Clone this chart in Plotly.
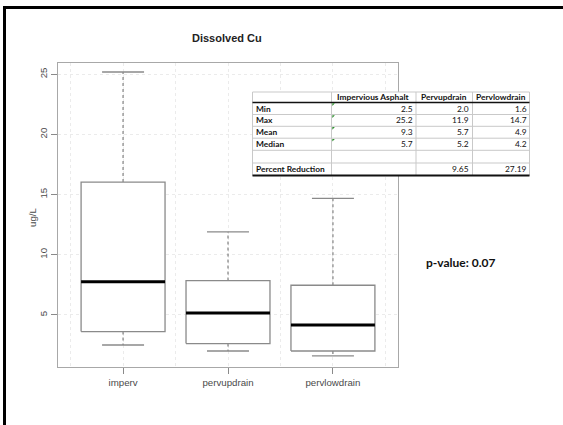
import plotly.graph_objects as go

# ---- data -------------------------------------------------------------
categories = ["imperv", "pervupdrain", "pervlowdrain"]
whisker_low = [2.5, 2.0, 1.6]
q1 = [3.62, 2.62, 2.0]
medians = [7.76, 5.17, 4.17]
q3 = [16.05, 7.86, 7.47]
whisker_high = [25.2, 11.9, 14.7]

y_ticks = [5, 10, 15, 20, 25]

table_header = ["", "Impervious Asphalt", "Pervupdrain", "Pervlowdrain"]
table_row_labels = ["Min", "Max", "Mean", "Median", "", "Percent Reduction"]
impervious_col = ["2.5", "25.2", "9.3", "5.7", "", ""]
pervupdrain_col = ["2.0", "11.9", "5.7", "5.2", "", "9.65"]
pervlowdrain_col = ["1.6", "14.7", "4.9", "4.2", "", "27.19"]
p_value_text = "p-value: 0.07"

# ---- figure geometry ----------------------------------------------------
W, H = 563, 425
ML, MR, MT, MB = 58, 165, 63, 58
PW, PH = W - ML - MR, H - MT - MB


def px(x):
    """pixel x -> paper x"""
    return (x - ML) / PW


def py(y):
    """pixel y -> paper y"""
    return (H - MB - y) / PH


GRAY = "#8a8a8a"
GRID = "#ebebeb"
positions = list(range(1, len(categories) + 1))
half_box = 0.4
half_cap = 0.2

fig = go.Figure()

for x, lo, a, m, b, hi in zip(positions, whisker_low, q1, medians, q3, whisker_high):
    # dashed whiskers
    fig.add_trace(go.Scatter(
        x=[x, x, None, x, x], y=[b, hi, None, a, lo], mode="lines",
        line=dict(color="#666666", width=1, dash="3px,3px"),
        hoverinfo="skip", showlegend=False))
    # whisker caps
    fig.add_trace(go.Scatter(
        x=[x - half_cap, x + half_cap, None, x - half_cap, x + half_cap],
        y=[hi, hi, None, lo, lo], mode="lines",
        line=dict(color=GRAY, width=1.3),
        hoverinfo="skip", showlegend=False))
    # box
    fig.add_trace(go.Scatter(
        x=[x - half_box, x + half_box, x + half_box, x - half_box, x - half_box],
        y=[a, a, b, b, a], mode="lines", fill="toself", fillcolor="white",
        line=dict(color=GRAY, width=1.3),
        hoverinfo="skip", showlegend=False))
    # median
    fig.add_trace(go.Scatter(
        x=[x - half_box, x + half_box], y=[m, m], mode="lines",
        line=dict(color="black", width=3),
        hoverinfo="skip", showlegend=False))

axis_font = dict(family="Liberation Sans, Arial, sans-serif", size=9.7, color="#4a4a4a")

fig.update_xaxes(
    range=[0.38, 3.62], tickvals=positions, ticktext=categories,
    ticks="outside", ticklen=6, tickcolor=GRAY, tickfont=axis_font,
    showline=True, mirror=True, linecolor="#a8a8a8", linewidth=1,
    showgrid=True, gridcolor=GRID, griddash="dot", zeroline=False,
    minor=dict(tickvals=[0.5, 1.5, 2.5, 3.5], showgrid=True,
               gridcolor=GRID, griddash="dot", ticklen=0),
)
fig.update_yaxes(
    range=[0.67, 25.95], tickvals=y_ticks, tickangle=-90,
    ticks="outside", ticklen=6, tickcolor=GRAY, tickfont=axis_font,
    showline=True, mirror=True, linecolor="#a8a8a8", linewidth=1,
    showgrid=True, gridcolor=GRID, griddash="dot", zeroline=False,
)

annotations = []
shapes = []

# chart title and y-axis label
annotations.append(dict(
    text="<b>Dissolved Cu</b>", x=px(227), y=py(38), xref="paper", yref="paper",
    showarrow=False, xanchor="center", yanchor="middle",
    font=dict(family="Liberation Sans, Arial, sans-serif", size=11, color="#222222")))
annotations.append(dict(
    text="ug/L", x=px(32), y=py(217), xref="paper", yref="paper", textangle=-90,
    showarrow=False, xanchor="center", yanchor="middle", font=axis_font))

# p-value note
annotations.append(dict(
    text="<b>" + p_value_text + "</b>", x=px(461), y=py(262), xref="paper", yref="paper",
    showarrow=False, xanchor="center", yanchor="middle",
    font=dict(family="Lato, sans-serif", size=12, color="#111111")))

# ---- summary table -----------------------------------------------------
col_edges = [252.5, 331.5, 416.0, 472.5, 529.5]
row_edges = [92.0, 102.5, 114.5, 126.3, 138.2, 150.3, 163.0, 175.5]
tfont = dict(family="Lato, sans-serif", size=8.4, color="#111111")
line_gray = "#c9c9c9"

shapes.append(dict(type="rect", xref="paper", yref="paper", layer="above",
                   x0=px(col_edges[0]), x1=px(col_edges[-1]),
                   y0=py(row_edges[0]), y1=py(row_edges[-1]),
                   fillcolor="white", line=dict(color=line_gray, width=1)))
for xe in col_edges[1:-1]:
    shapes.append(dict(type="line", xref="paper", yref="paper", layer="above",
                       x0=px(xe), x1=px(xe), y0=py(row_edges[0]), y1=py(row_edges[-1]),
                       line=dict(color=line_gray, width=1)))
for ye in row_edges[2:-1]:
    shapes.append(dict(type="line", xref="paper", yref="paper", layer="above",
                       x0=px(col_edges[0]), x1=px(col_edges[-1]), y0=py(ye), y1=py(ye),
                       line=dict(color=line_gray, width=1)))
# heavy rule under the header and double rule at the bottom
shapes.append(dict(type="line", xref="paper", yref="paper", layer="above",
                   x0=px(col_edges[0]), x1=px(col_edges[-1]),
                   y0=py(row_edges[1]), y1=py(row_edges[1]),
                   line=dict(color="#111111", width=1.5)))
shapes.append(dict(type="line", xref="paper", yref="paper", layer="above",
                   x0=px(col_edges[0]), x1=px(col_edges[-1]),
                   y0=py(row_edges[-1]), y1=py(row_edges[-1]),
                   line=dict(color="#111111", width=2)))

# header cells
for j, h in enumerate(table_header):
    if not h:
        continue
    annotations.append(dict(
        text="<b>" + h + "</b>", x=px((col_edges[j] + col_edges[j + 1]) / 2),
        y=py((row_edges[0] + row_edges[1]) / 2), xref="paper", yref="paper",
        showarrow=False, xanchor="center", yanchor="middle", font=tfont))

columns = [impervious_col, pervupdrain_col, pervlowdrain_col]
for i, label in enumerate(table_row_labels):
    yc = py((row_edges[i + 1] + row_edges[i + 2]) / 2)
    if label:
        annotations.append(dict(
            text="<b>" + label + "</b>", x=px(col_edges[0] + 1.0), y=yc,
            xref="paper", yref="paper", showarrow=False,
            xanchor="left", yanchor="middle", font=tfont))
    for j, col in enumerate(columns):
        if col[i]:
            annotations.append(dict(
                text=col[i], x=px(col_edges[j + 2] - 1.0), y=yc,
                xref="paper", yref="paper", showarrow=False,
                xanchor="right", yanchor="middle", font=tfont))
    # small green error-indicator marks on the first data column
    if i < 4:
        x0, y0 = col_edges[1] + 0.8, row_edges[i + 1] + 0.8
        shapes.append(dict(
            type="path", xref="paper", yref="paper", layer="above",
            path=(f"M {px(x0)} {py(y0)} L {px(x0 + 2.6)} {py(y0)} "
                  f"L {px(x0)} {py(y0 + 2.6)} Z"),
            fillcolor="#2f8f2f", line=dict(width=0)))

# black frame along the top and left edges of the picture
shapes.append(dict(type="rect", xref="paper", yref="paper", layer="above",
                   x0=px(3), x1=px(W), y0=py(6), y1=py(9),
                   fillcolor="black", line=dict(width=0)))
shapes.append(dict(type="rect", xref="paper", yref="paper", layer="above",
                   x0=px(3), x1=px(6), y0=py(6), y1=py(H),
                   fillcolor="black", line=dict(width=0)))

fig.update_layout(
    width=W, height=H, autosize=False,
    margin=dict(l=ML, r=MR, t=MT, b=MB),
    paper_bgcolor="white", plot_bgcolor="white",
    showlegend=False, annotations=annotations, shapes=shapes,
)

fig.write_html("out.html")
